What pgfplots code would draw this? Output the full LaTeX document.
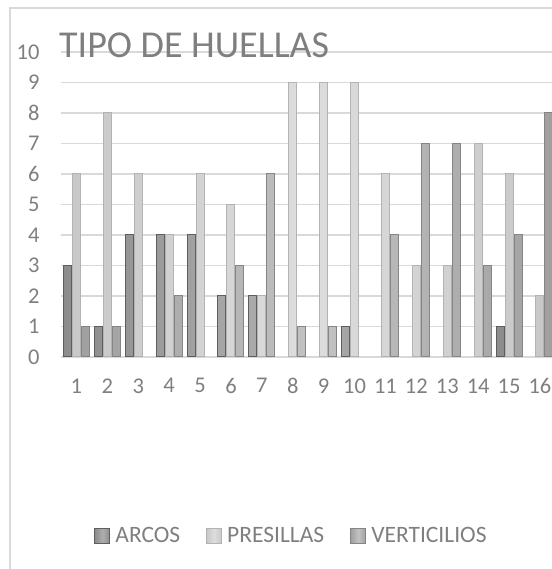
\documentclass[border=0pt]{standalone}
\usepackage{pgfplots}
\pgfplotsset{compat=1.18}
\usepackage{fontspec}
\setmainfont{Carlito}
\definecolor{txt}{HTML}{7F7F7F}
\definecolor{gridc}{HTML}{D9D9D9}
\definecolor{arcD}{HTML}{5E5E5E}
\definecolor{arcE}{HTML}{8C8C8C}
\definecolor{arcM}{HTML}{AFAFAF}
\definecolor{preD}{HTML}{B3B3B3}
\definecolor{preE}{HTML}{C8C8C8}
\definecolor{preM}{HTML}{DDDDDD}
\definecolor{verD}{HTML}{858585}
\definecolor{verE}{HTML}{A0A0A0}
\definecolor{verM}{HTML}{C2C2C2}
\begin{document}
\begin{tikzpicture}
\useasboundingbox (0pt,0pt) rectangle (551pt,569pt);
\draw[gridc, line width=1.2pt] (10pt,-5pt) -- (10pt,561pt) -- (560pt,561pt);
\begin{axis}[
  at={(61pt,212pt)}, anchor=south west,
  scale only axis, width=494.4pt, height=305pt,
  xmin=0.5, xmax=16.5, ymin=0, ymax=10,
  ybar=1pt, bar width=8pt,
  axis lines*=left,
  axis line style={-},
  x axis line style={gridc, line width=1.2pt},
  y axis line style={draw=none},
  ymajorgrids, grid style={gridc, line width=1.2pt},
  major tick length=0pt, tick style={draw=none},
  xtick={1,...,16}, ytick={0,...,10},
  /pgf/number format/assume math mode=true,
  ticklabel style={font=\fontsize{22.5}{27}\selectfont, text=txt},
  xticklabel style={yshift=-18pt},
  yticklabel style={xshift=-18pt},
  y filter/.expression={y==0 ? nan : y},
  legend columns=3,
  legend style={at={(0.4662,-0.587)}, anchor=center, draw=none, fill=none,
    font=\fontsize{23.5}{28}\selectfont, text=txt,
    /tikz/every odd column/.append style={column sep=3pt},
    /tikz/every even column/.append style={column sep=24pt}},
  legend image code/.code={\draw[#1] (0pt,-7.5pt) rectangle (15pt,7.5pt);},
]
\addplot[draw=arcD, line width=1pt, left color=arcE, right color=arcE, middle color=arcM] coordinates {
(1,3) (2,1) (3,4) (4,4) (5,4) (6,2) (7,2) (8,0) (9,0) (10,1) (11,0) (12,0) (13,0) (14,0) (15,1) (16,0)};
\addplot[draw=preD, line width=1pt, left color=preE, right color=preE, middle color=preM] coordinates {
(1,6) (2,8) (3,6) (4,4) (5,6) (6,5) (7,2) (8,9) (9,9) (10,9) (11,6) (12,3) (13,3) (14,7) (15,6) (16,2)};
\addplot[draw=verD, line width=1pt, left color=verE, right color=verE, middle color=verM] coordinates {
(1,1) (2,1) (3,0) (4,2) (5,0) (6,3) (7,6) (8,1) (9,1) (10,0) (11,4) (12,7) (13,7) (14,3) (15,4) (16,8)};
\legend{ARCOS, PRESILLAS, VERTICILIOS}
\end{axis}
\node[anchor=base west, inner sep=0pt, text=txt, font=\fontsize{38}{42}\selectfont] at (59pt,511pt) {TIPO DE HUELLAS};
\end{tikzpicture}
\end{document}
